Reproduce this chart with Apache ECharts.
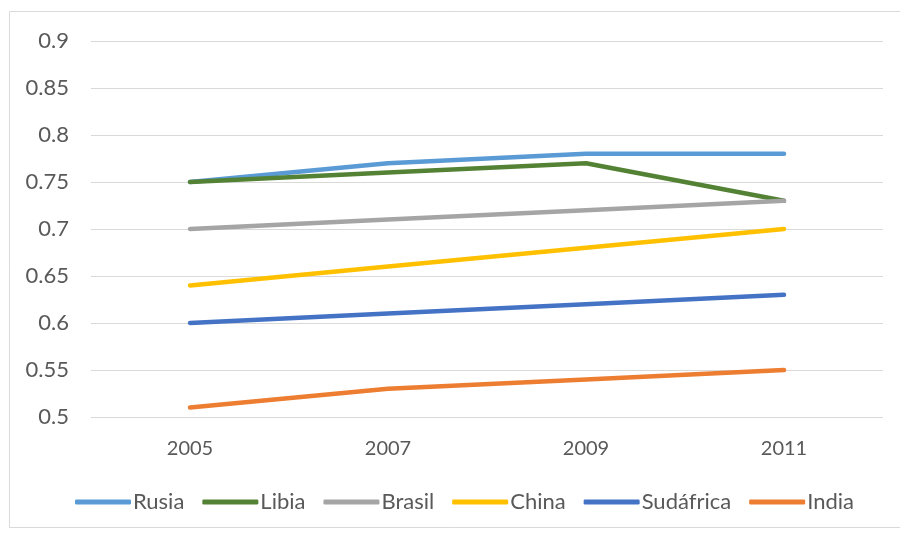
<!DOCTYPE html>
<html>
<head>
<meta charset="utf-8">
<script src="https://cdn.jsdelivr.net/npm/echarts@6/dist/echarts.min.js"></script>
<style>
  html, body { margin: 0; padding: 0; background: #fff; }
  #chart { width: 900px; height: 533px; }
</style>
</head>
<body>
<div id="chart"></div>
<script>
const years = ['2005', '2007', '2009', '2011']
const rusia = [0.75, 0.77, 0.78, 0.78]
const libia = [0.75, 0.76, 0.77, 0.73]
const brasil = [0.70, 0.71, 0.72, 0.73]
const china = [0.64, 0.66, 0.68, 0.70]
const sudafrica = [0.60, 0.61, 0.62, 0.63]
const india = [0.51, 0.53, 0.54, 0.55]

const font = 'Lato, "Open Sans", sans-serif'

function line(name, data, color) {
  return {
    name: name,
    type: 'line',
    data: data,
    symbol: 'none',
    lineStyle: { color: color, width: 4.5, cap: 'round', join: 'round' },
    itemStyle: { color: color }
  }
}

const chart = echarts.init(document.getElementById('chart'))
chart.setOption({
  animation: false,
  graphic: [{
    type: 'rect',
    shape: { x: 9.5, y: 11.5, width: 900, height: 516 },
    style: { fill: null, stroke: '#d9d9d9', lineWidth: 1 },
    silent: true
  }],
  grid: { left: 91, right: 17, top: 41, bottom: 116 },
  legend: {
    top: 486,
    left: 70,
    icon: 'roundRect',
    itemWidth: 56,
    itemHeight: 5,
    itemGap: 18,
    textStyle: { fontFamily: font, fontSize: 22, color: '#595959', padding: [0, 0, 0, -3] },
    data: ['Rusia', 'Libia', 'Brasil', 'China', 'Sudáfrica', 'India']
  },
  xAxis: {
    type: 'category',
    data: years,
    boundaryGap: true,
    axisLine: { show: false },
    axisTick: { show: false },
    axisLabel: { fontFamily: font, fontSize: 20, color: '#595959', margin: 22 }
  },
  yAxis: {
    type: 'value',
    min: 0.5,
    max: 0.9,
    interval: 0.05,
    axisLine: { show: false },
    axisTick: { show: false },
    splitLine: { lineStyle: { color: '#d9d9d9', width: 1 } },
    axisLabel: { fontFamily: font, fontSize: 22, color: '#595959', margin: 22, formatter: v => String(+v.toFixed(2)) }
  },
  series: [
    line('Rusia', rusia, '#5b9bd5'),
    line('Libia', libia, '#548235'),
    line('Brasil', brasil, '#a5a5a5'),
    line('China', china, '#ffc000'),
    line('Sudáfrica', sudafrica, '#4472c4'),
    line('India', india, '#ed7d31')
  ]
})
</script>
</body>
</html>
